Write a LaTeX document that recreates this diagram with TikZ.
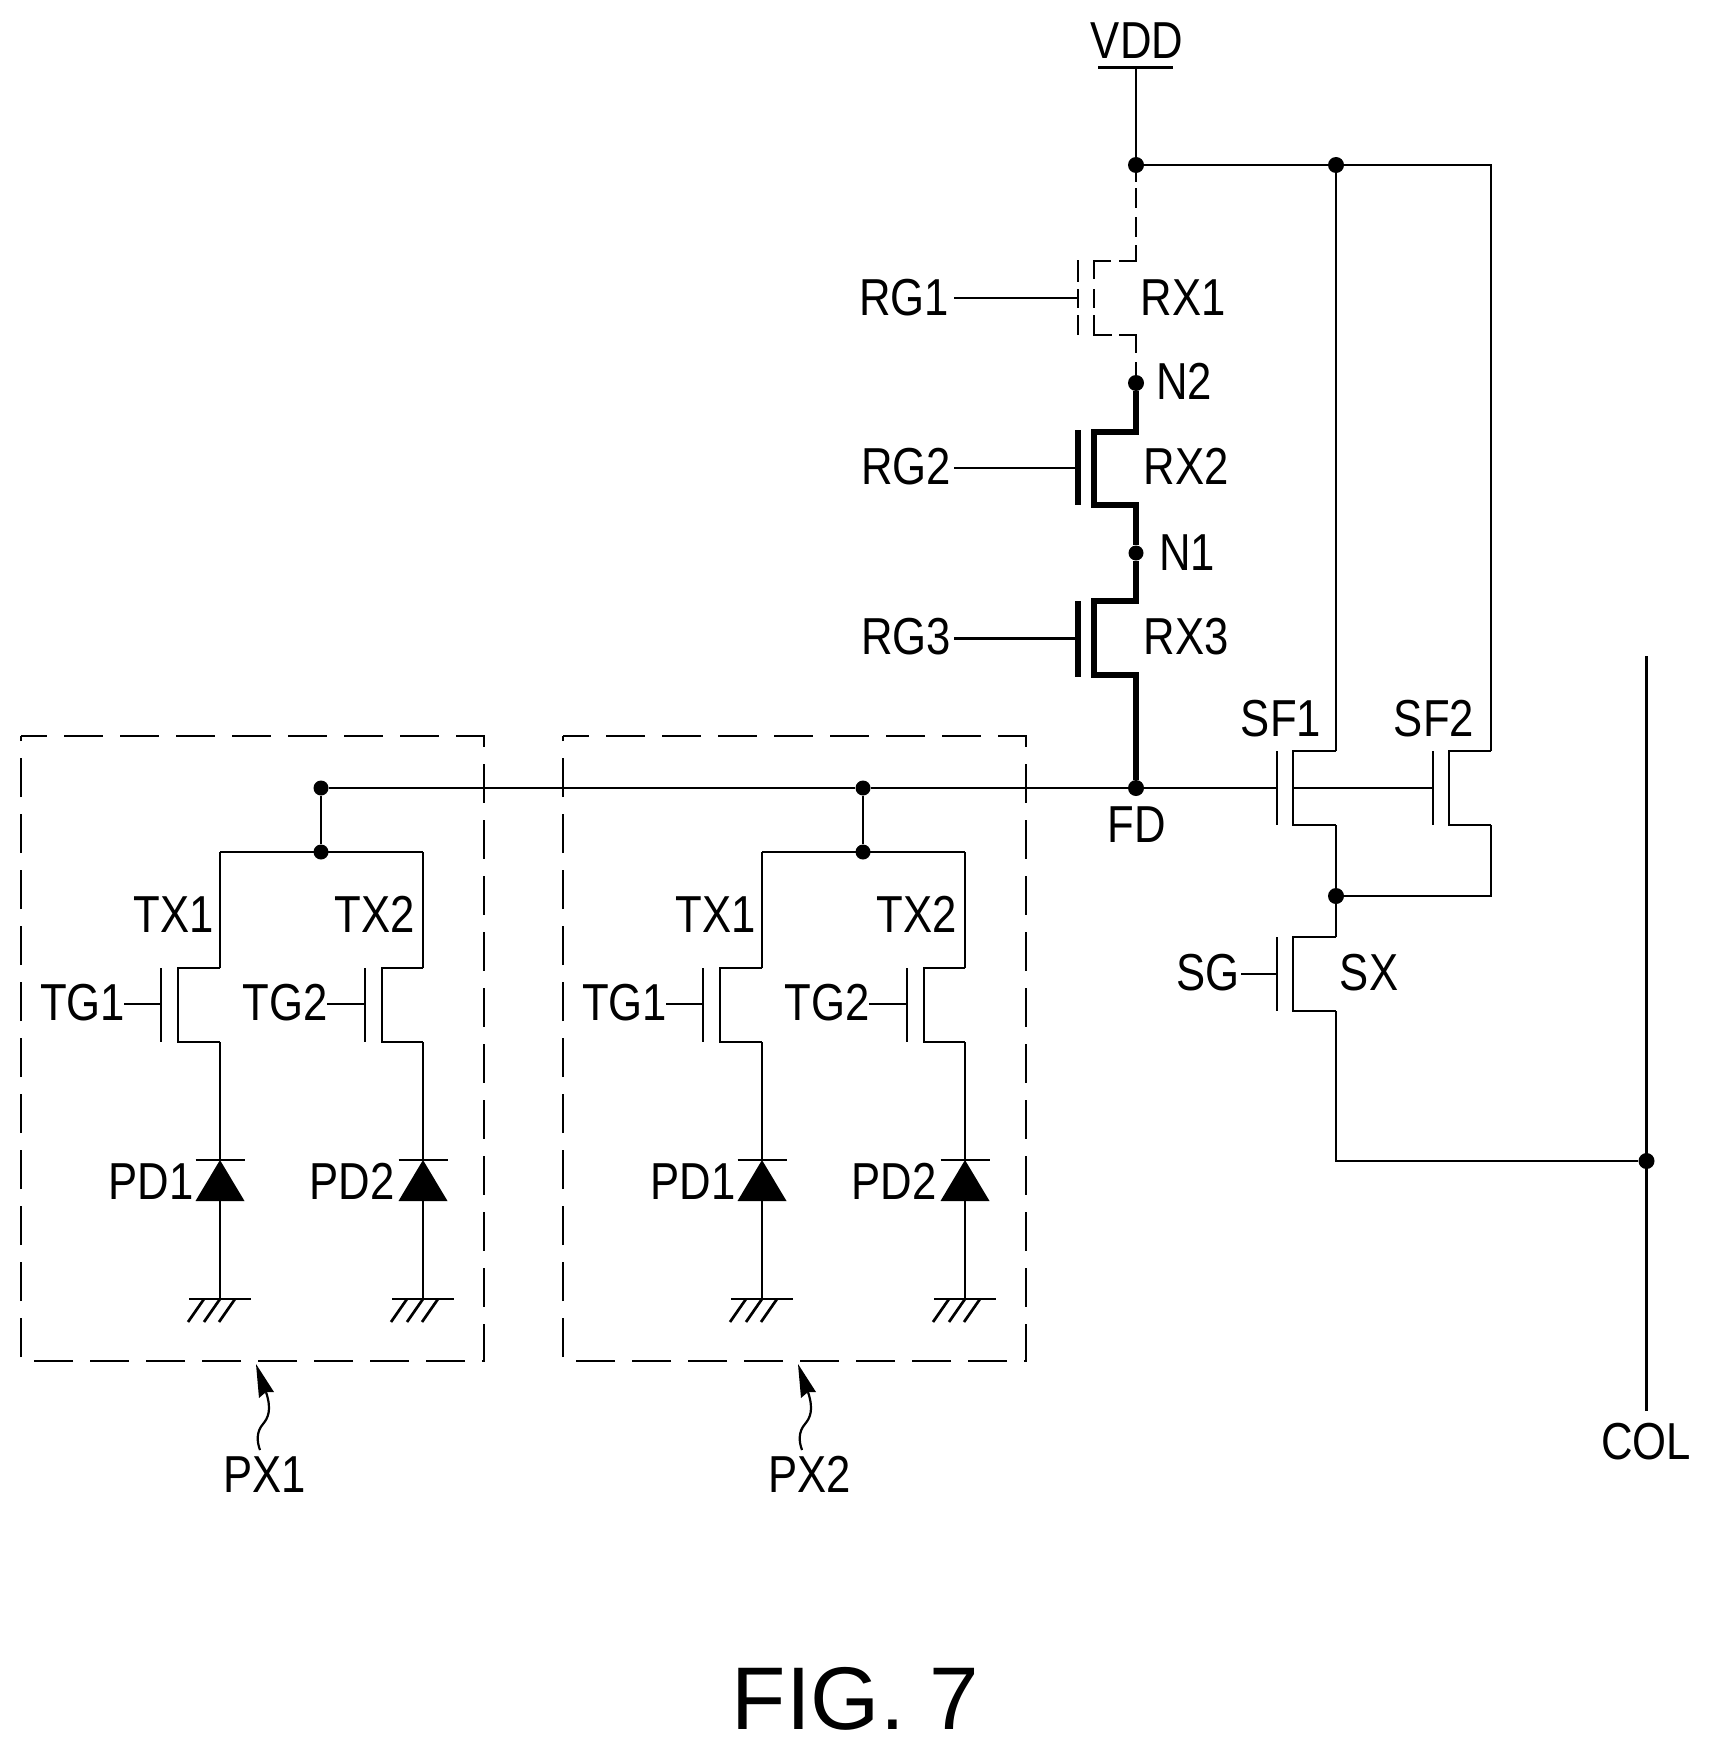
\documentclass[tikz,border=0pt]{standalone}
\usepackage{fontspec}
\setmainfont[FakeStretch=0.84]{Liberation Sans}
\newfontfamily\figfont{Liberation Sans}
\tikzset{
  wire/.style={line width=2.7pt,line join=miter},
  heavy/.style={line width=5.6pt,line join=miter},
  boxline/.style={line width=2.7pt,dash pattern=on 39pt off 17pt,dash phase=13pt},
  lbl/.style={inner sep=0pt,text height=37pt,text depth=0pt,font=\fontsize{52}{52}\selectfont},
  dot/.style={circle,fill=black,inner sep=0pt,minimum size=16pt},
}
% \fet{style}{name}{drain x}{channel x}{plate x}{top y}{bottom y}
\newcommand{\fet}[7]{%
  \coordinate (#2t) at (#3,#6);
  \coordinate (#2b) at (#3,#7);
  \draw[#1] (#2t) -- (#4,#6) -- (#4,#7) -- (#2b);
  \draw[#1] (#5,#6) -- (#5,#7);
}
\newcommand{\pixelblock}[3]{%
\begin{scope}[xshift=#1pt,name prefix=#2-]
  \draw[boxline] (21,736) -- (484,736) -- (484,1361) -- (21,1361) -- cycle;
  \node[dot,minimum size=15pt] (top) at (321,788) {};
  \node[dot,minimum size=15pt] (mid) at (321,852) {};
  \draw[wire] (top) -- (mid);
  \coordinate (L) at (220,852);
  \coordinate (R) at (423,852);
  \draw[wire] (L) -- (R);
  \fet{wire}{A}{220}{178}{161}{968}{1042}
  \fet{wire}{B}{423}{382}{365}{968}{1042}
  \draw[wire] (L) -- (At);
  \draw[wire] (R) -- (Bt);
  \node[lbl] (TX1) at (173.5,914) {TX1};
  \node[lbl] (TX2) at (375,914) {TX2};
  \node[lbl] (TG1) at (82.5,1002) {TG1};
  \node[lbl] (TG2) at (285,1002) {TG2};
  \coordinate (Ag) at (161,1004);
  \coordinate (Bg) at (365,1004);
  \draw[wire] (124,1004) -- (Ag);
  \draw[wire] (327,1004) -- (Bg);
  \node[lbl] (PD1) at (151,1181) {PD1};
  \node[lbl] (PD2) at (352,1181) {PD2};
  \foreach \n/\x in {C/220,D/423}{
    \coordinate (\n k) at (\x,1160);
    \coordinate (\n a) at (\x,1200);
    \coordinate (\n g) at (\x,1299);
    \fill (\n k) -- (\x+24.5,1201) -- (\x-24.5,1201) -- cycle;
    \draw[wire] (\x-24.5,1160) -- (\x+24.5,1160);
    \draw[wire] (\x-31,1299) -- (\x+31,1299);
    \foreach \h in {-16,0,15}{\draw[wire] (\x+\h,1299) -- (\x+\h-16,1322);}
    \draw[wire] (\n a) -- (\n g);
  }
  \draw[wire] (Ab) -- (Ck);
  \draw[wire] (Bb) -- (Dk);
  \fill (256,1364) -- (274,1392) -- (266,1392) -- (259,1398) -- cycle;
  \draw[line width=2.2pt] (266,1392) .. controls (272,1410) and (268,1418) .. (263,1424) .. controls (256,1432) and (257,1442) .. (260,1450);
  \node[lbl] (PX) at (#3,1474) {PX\ifnum#1=0 1\else 2\fi};
\end{scope}}
\begin{document}
\begin{tikzpicture}[x=1pt,y=-1pt]
  \useasboundingbox (0,0) rectangle (1711,1750);
  \fill[white] (0,0) rectangle (1711,1750);

  % supply
  \node[lbl] (VDD) at (1137,40) {VDD};
  \coordinate (VDDbar) at (1136,67.5);
  \draw[wire] (1098,67.5) -- (1173,67.5);
  \node[dot] (Nvdd) at (1136,165) {};
  \node[dot] (Nsf) at (1336,165) {};
  \draw[wire] (VDDbar) -- (Nvdd);
  \draw[wire] (Nvdd) -- (Nsf);

  % reset transistors
  \node[dot] (N2) at (1136,383) {};
  \node[dot,minimum size=15pt] (N1) at (1136,553) {};
  \node[dot] (FD) at (1136,788) {};
  \draw[wire]
    (Nvdd) -- (1136,182) (1136,188) -- (1136,208) (1136,217) -- (1136,237)
    (1136,245) -- (1136,261) -- (1119,261) (1111,261) -- (1094,261) -- (1094,279)
    (1094,289) -- (1094,308) (1094,315) -- (1094,335) -- (1112,335)
    (1119,335) -- (1136,335) -- (1136,353) (1136,362) -- (N2);
  \draw[wire] (1078,260) -- (1078,282) (1078,289) -- (1078,308) (1078,315) -- (1078,335);
  \draw[heavy] (N2) -- (1136,432) -- (1094,432) -- (1094,505) -- (1136,505) -- (N1);
  \draw[heavy] (N1) -- (1136,601) -- (1094,601) -- (1094,675) -- (1136,675) -- (FD);
  \draw[heavy] (1078,430) -- (1078,505);
  \draw[heavy] (1078,601) -- (1078,677);
  \coordinate (G1) at (1078,298);
  \coordinate (G2) at (1078,468);
  \coordinate (G3) at (1078,638.5);
  \coordinate (G1s) at (954,298);
  \coordinate (G2s) at (954,468);
  \coordinate (G3s) at (954,638.5);
  \draw[wire] (G1s) -- (G1);
  \draw[wire] (G2s) -- (G2);
  \draw[wire] (G3s) -- (G3);
  \node[lbl] (RG1) at (904,297) {RG1};
  \node[lbl] (RG2) at (906,466) {RG2};
  \node[lbl] (RG3) at (906,636) {RG3};
  \node[lbl] (RX1) at (1183,297) {RX1};
  \node[lbl] (RX2) at (1186,466) {RX2};
  \node[lbl] (RX3) at (1186,636) {RX3};
  \node[lbl] (N2t) at (1184,381) {N2};
  \node[lbl] (N1t) at (1187,552) {N1};
  \node[lbl] (FDt) at (1137,824) {FD};

  % source followers and select transistor
  \fet{wire}{F}{1336}{1293}{1277}{751}{825}
  \fet{wire}{H}{1491}{1449}{1433}{751}{825}
  \fet{wire}{S}{1336}{1293}{1277}{937}{1011}
  \node[dot] (Nsx) at (1336,896) {};
  \coordinate (Sg) at (1277,974);
  \draw[wire] (1241,974) -- (Sg);
  \draw[wire] (Nsf) -- (Ft);
  \draw[wire] (Nsf) -- (1491,165) -- (Ht);
  \draw[wire] (Fb) -- (Nsx);
  \draw[wire] (Hb) -- (1491,896) -- (Nsx);
  \draw[wire] (Nsx) -- (St);
  \coordinate (COLt) at (1646.5,656);
  \coordinate (COLb) at (1646.5,1411);
  \node[dot] (Ncol) at (1646.5,1161) {};
  \draw[wire] (COLt) -- (COLb);
  \draw[wire] (Sb) -- (1336,1161) -- (Ncol);
  \node[lbl] (SF1) at (1281,718) {SF1};
  \node[lbl] (SF2) at (1434,718) {SF2};
  \node[lbl] (SG) at (1208,972) {SG};
  \node[lbl] (SX) at (1369,972) {SX};
  \node[lbl] (COL) at (1646,1441) {COL};

  % pixels
  \pixelblock{0}{p}{265}
  \pixelblock{542}{q}{268}

  % floating diffusion wire
  \draw[wire] (p-top) -- (q-top);
  \draw[wire] (q-top) -- (FD);
  \draw[wire] (FD) -- (1277,788);
  \draw[wire] (1293,788) -- (1433,788);

  \node[inner sep=0pt,text height=64pt,text depth=0pt,font=\figfont\fontsize{89}{89}\selectfont] (FIG) at (855.5,1697) {FIG. 7};
\end{tikzpicture}
\end{document}
